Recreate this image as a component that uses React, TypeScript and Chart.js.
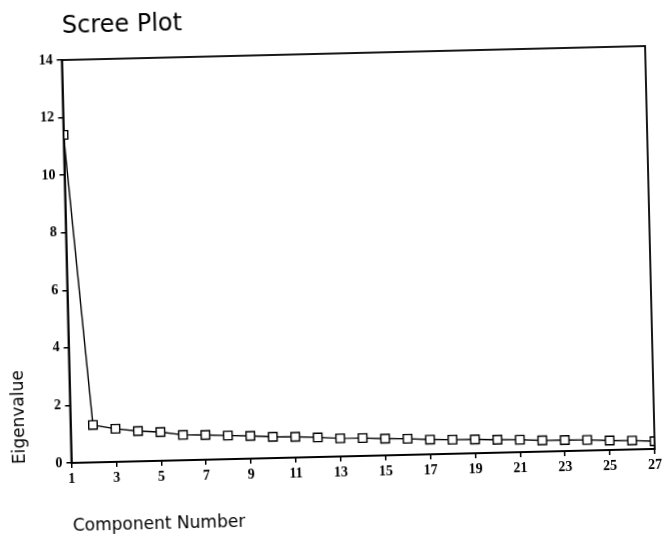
import React, { useEffect, useRef } from "react";
import { Chart, registerables } from "chart.js";

Chart.register(...registerables);

const components = [1, 2, 3, 4, 5, 6, 7, 8, 9, 10, 11, 12, 13, 14, 15, 16, 17, 18, 19, 20, 21, 22, 23, 24, 25, 26, 27];
const eigenvalues = [11.4, 1.3, 1.15, 1.05, 1.0, 0.88, 0.86, 0.82, 0.79, 0.74, 0.72, 0.68, 0.63, 0.62, 0.58, 0.56, 0.51, 0.49, 0.48, 0.45, 0.43, 0.39, 0.38, 0.37, 0.33, 0.31, 0.27];
const titleText = "Scree Plot";
const xTitle = "Component Number";
const yTitle = "Eigenvalue";

const framePlugin = {
  id: "frame",
  afterDraw(chart: any) {
    const { ctx, chartArea } = chart;
    ctx.save();
    ctx.strokeStyle = "#000";
    ctx.lineWidth = 1.8;
    ctx.strokeRect(chartArea.left, chartArea.top, chartArea.right - chartArea.left, chartArea.bottom - chartArea.top);
    ctx.fillStyle = "#000";
    ctx.font = "24px 'DejaVu Sans'";
    ctx.textAlign = "left";
    ctx.textBaseline = "middle";
    ctx.fillText(titleText, chartArea.left + 1, 20);
    ctx.restore();
  },
};

export default function App() {
  const ref = useRef<HTMLCanvasElement>(null);
  useEffect(() => {
    if (!ref.current) return;
    const tickFont = { family: "'Liberation Serif'", size: 14, weight: "bold" as const };
    const chart = new Chart(ref.current, {
      type: "line",
      data: {
        datasets: [
          {
            data: components.map((c, i) => ({ x: c, y: eigenvalues[i] })),
            borderColor: "#000",
            borderWidth: 1.4,
            pointStyle: "rect",
            pointRadius: 6,
            pointBackgroundColor: "#fff",
            pointBorderColor: "#000",
            pointBorderWidth: 1.4,
            tension: 0,
          },
        ],
      },
      options: {
        animation: false,
        responsive: false,
        layout: { padding: { top: 53, right: 14, left: 0, bottom: 0 } },
        plugins: { legend: { display: false }, tooltip: { enabled: false }, title: { display: false } },
        scales: {
          x: {
            type: "linear",
            min: 1,
            max: 27,
            afterFit: (s: any) => {
              s.height = 80;
            },
            ticks: { stepSize: 2, color: "#000", font: tickFont, padding: 3, maxRotation: 0 },
            grid: { drawOnChartArea: false, drawTicks: true, tickLength: 5, color: "#000", lineWidth: 1.5 },
            border: { display: true, color: "#000", width: 1.8 },
            title: {
              display: true,
              text: xTitle,
              align: "start",
              color: "#000",
              font: { family: "'DejaVu Sans'", size: 17 },
              padding: { top: 0, bottom: 6 },
            },
          },
          y: {
            min: 0,
            max: 14,
            afterFit: (s: any) => {
              s.width = 66.5;
            },
            ticks: { stepSize: 2, color: "#000", font: tickFont, padding: 4 },
            grid: { drawOnChartArea: false, drawTicks: true, tickLength: 5, color: "#000", lineWidth: 1.5 },
            border: { display: true, color: "#000", width: 1.8 },
            title: {
              display: true,
              text: yTitle,
              align: "start",
              color: "#000",
              font: { family: "'DejaVu Sans'", size: 17 },
              padding: { top: 5, bottom: 0 },
            },
          },
        },
      },
      plugins: [framePlugin],
    });
    return () => chart.destroy();
  }, []);
  return (
    <div style={{ position: "fixed", left: 0, top: 0, width: 664, height: 536, background: "#fff", overflow: "hidden" }}>
      <canvas
        ref={ref}
        width={664}
        height={536}
        style={{ display: "block", transform: "rotate(-1.376deg)", transformOrigin: "358px 254.5px" }}
      />
    </div>
  );
}
